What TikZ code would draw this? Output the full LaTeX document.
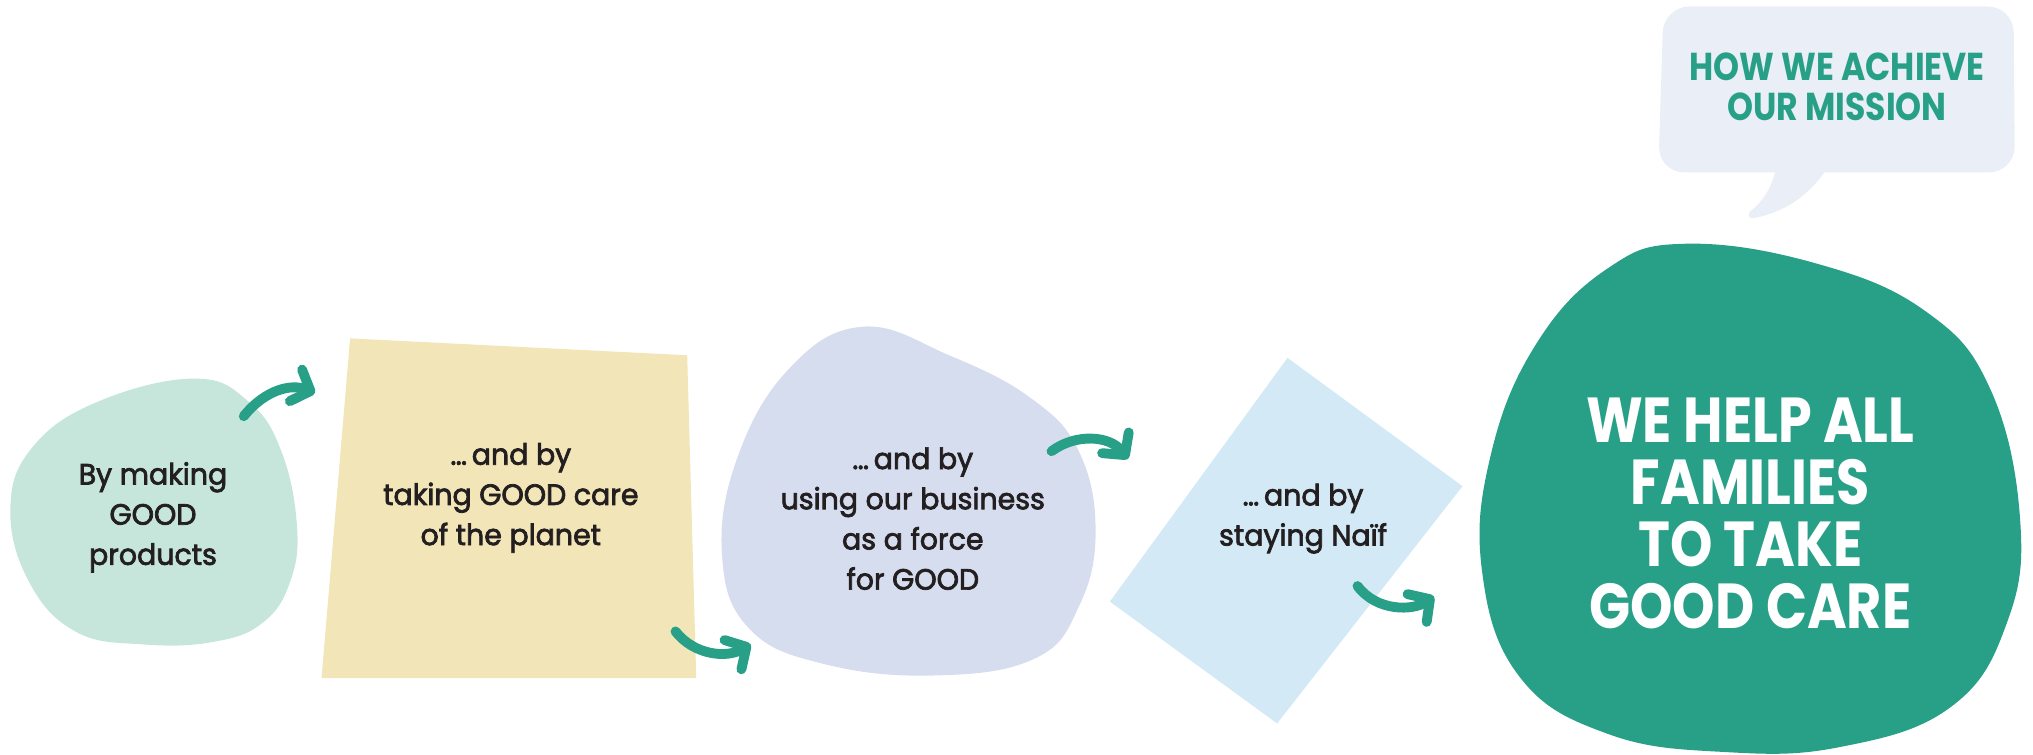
\documentclass[tikz,border=0pt]{standalone}
\usepackage{fontspec}
\setmainfont{Poppins}
\newfontfamily\bodyfont[UprightFeatures={FakeBold=2.5},FakeStretch=0.97]{Poppins}
\newfontfamily\dispfont[FakeStretch=0.85]{Poppins}
\usetikzlibrary{arrows.meta}
\definecolor{tealc}{HTML}{28A088}
\definecolor{mintc}{HTML}{C6E6DB}
\definecolor{sandc}{HTML}{F2E5B8}
\definecolor{lavc}{HTML}{D6DDEE}
\definecolor{skyc}{HTML}{D3EAF6}
\definecolor{bubc}{HTML}{E9EEF7}
\definecolor{inkc}{HTML}{231F20}
\begin{document}
\begin{tikzpicture}[x=0.5pt,y=-0.5pt,
  body/.style={align=center,text=inkc,font=\bodyfont\fontsize{11.3}{15.5}\selectfont},
  mission/.style={align=center,text=white,font=\dispfont\bfseries\fontsize{24.5}{24}\selectfont},
  headline/.style={align=center,text=tealc,font=\dispfont\bfseries\fontsize{15}{15.5}\selectfont},
  flow/.style={draw=tealc,line width=3.8pt,line cap=round,-{Straight Barb[length=6pt,width=13pt,round]}}]
\useasboundingbox (0,0) rectangle (1568,582);
% shapes
\fill[mintc] plot[smooth cycle,tension=0.7] coordinates {(150,292) (192,310) (217,348) (229,405) (224,448) (203,480) (165,495) (110,497) (58,487) (22,448) (8,392) (25,345) (75,310)};
\fill[sandc] (270,261) -- (530,274) -- (537,523) -- (248,523) -- cycle;
\fill[lavc] plot[smooth cycle,tension=0.7] coordinates {(665,252) (732,274) (795,307) (832,348) (845,410) (832,468) (798,508) (720,521) (635,512) (578,485) (557,430) (568,355) (608,285)};
\fill[skyc] (993,276) -- (1128,375) -- (985,558) -- (856,464) -- cycle;
\fill[tealc] plot[smooth cycle,tension=0.7] coordinates {(1300,188) (1400,203) (1485,240) (1535,300) (1558,400) (1548,480) (1505,545) (1420,576) (1330,580) (1240,566) (1172,522) (1143,440) (1150,350) (1185,265) (1240,207)};
% speech bubble
\fill[bubc,rounded corners=10pt] (1283,5) -- (1553,5) -- (1554,133) -- (1279,133) -- cycle;
\fill[bubc] (1363,128) -- (1369,133) .. controls (1366,145) and (1360,155) .. (1350,163) .. controls (1347,167) and (1350,169) .. (1354,168) .. controls (1378,163) and (1395,150) .. (1407,133) -- (1412,128) -- cycle;
% texts
\node[headline] (head) at (1417,67) {HOW WE ACHIEVE\\OUR MISSION};
\node[body] (t1) at (118,399) {By making\\GOOD\\products};
\node[body] (t2) at (394,384) {…\,and by\\taking GOOD care\\of the planet};
\node[body] (t3) at (704,400) {…\,and by\\using our business\\as a force\\for GOOD};
\node[body] (t4) at (1005,400) {…\,and by\\staying Naïf};
\node[mission] (goal) at (1350,396) {WE HELP ALL\\FAMILIES\\TO TAKE\\GOOD CARE};
% arrows
\coordinate (a1s) at (188,321); \coordinate (a1e) at (243,303);
\coordinate (a2s) at (521,487); \coordinate (a2e) at (579,497);
\coordinate (a3s) at (811,348); \coordinate (a3e) at (870,354);
\coordinate (a4s) at (1047,452); \coordinate (a4e) at (1106,460);
\draw[flow] (a1s) .. controls (205,300) and (225,296) .. (a1e);
\draw[flow] (a2s) .. controls (535,505) and (560,508) .. (a2e);
\draw[flow] (a3s) .. controls (830,334) and (856,336) .. (a3e);
\draw[flow] (a4s) .. controls (1062,472) and (1090,471) .. (a4e);
\end{tikzpicture}
\end{document}
